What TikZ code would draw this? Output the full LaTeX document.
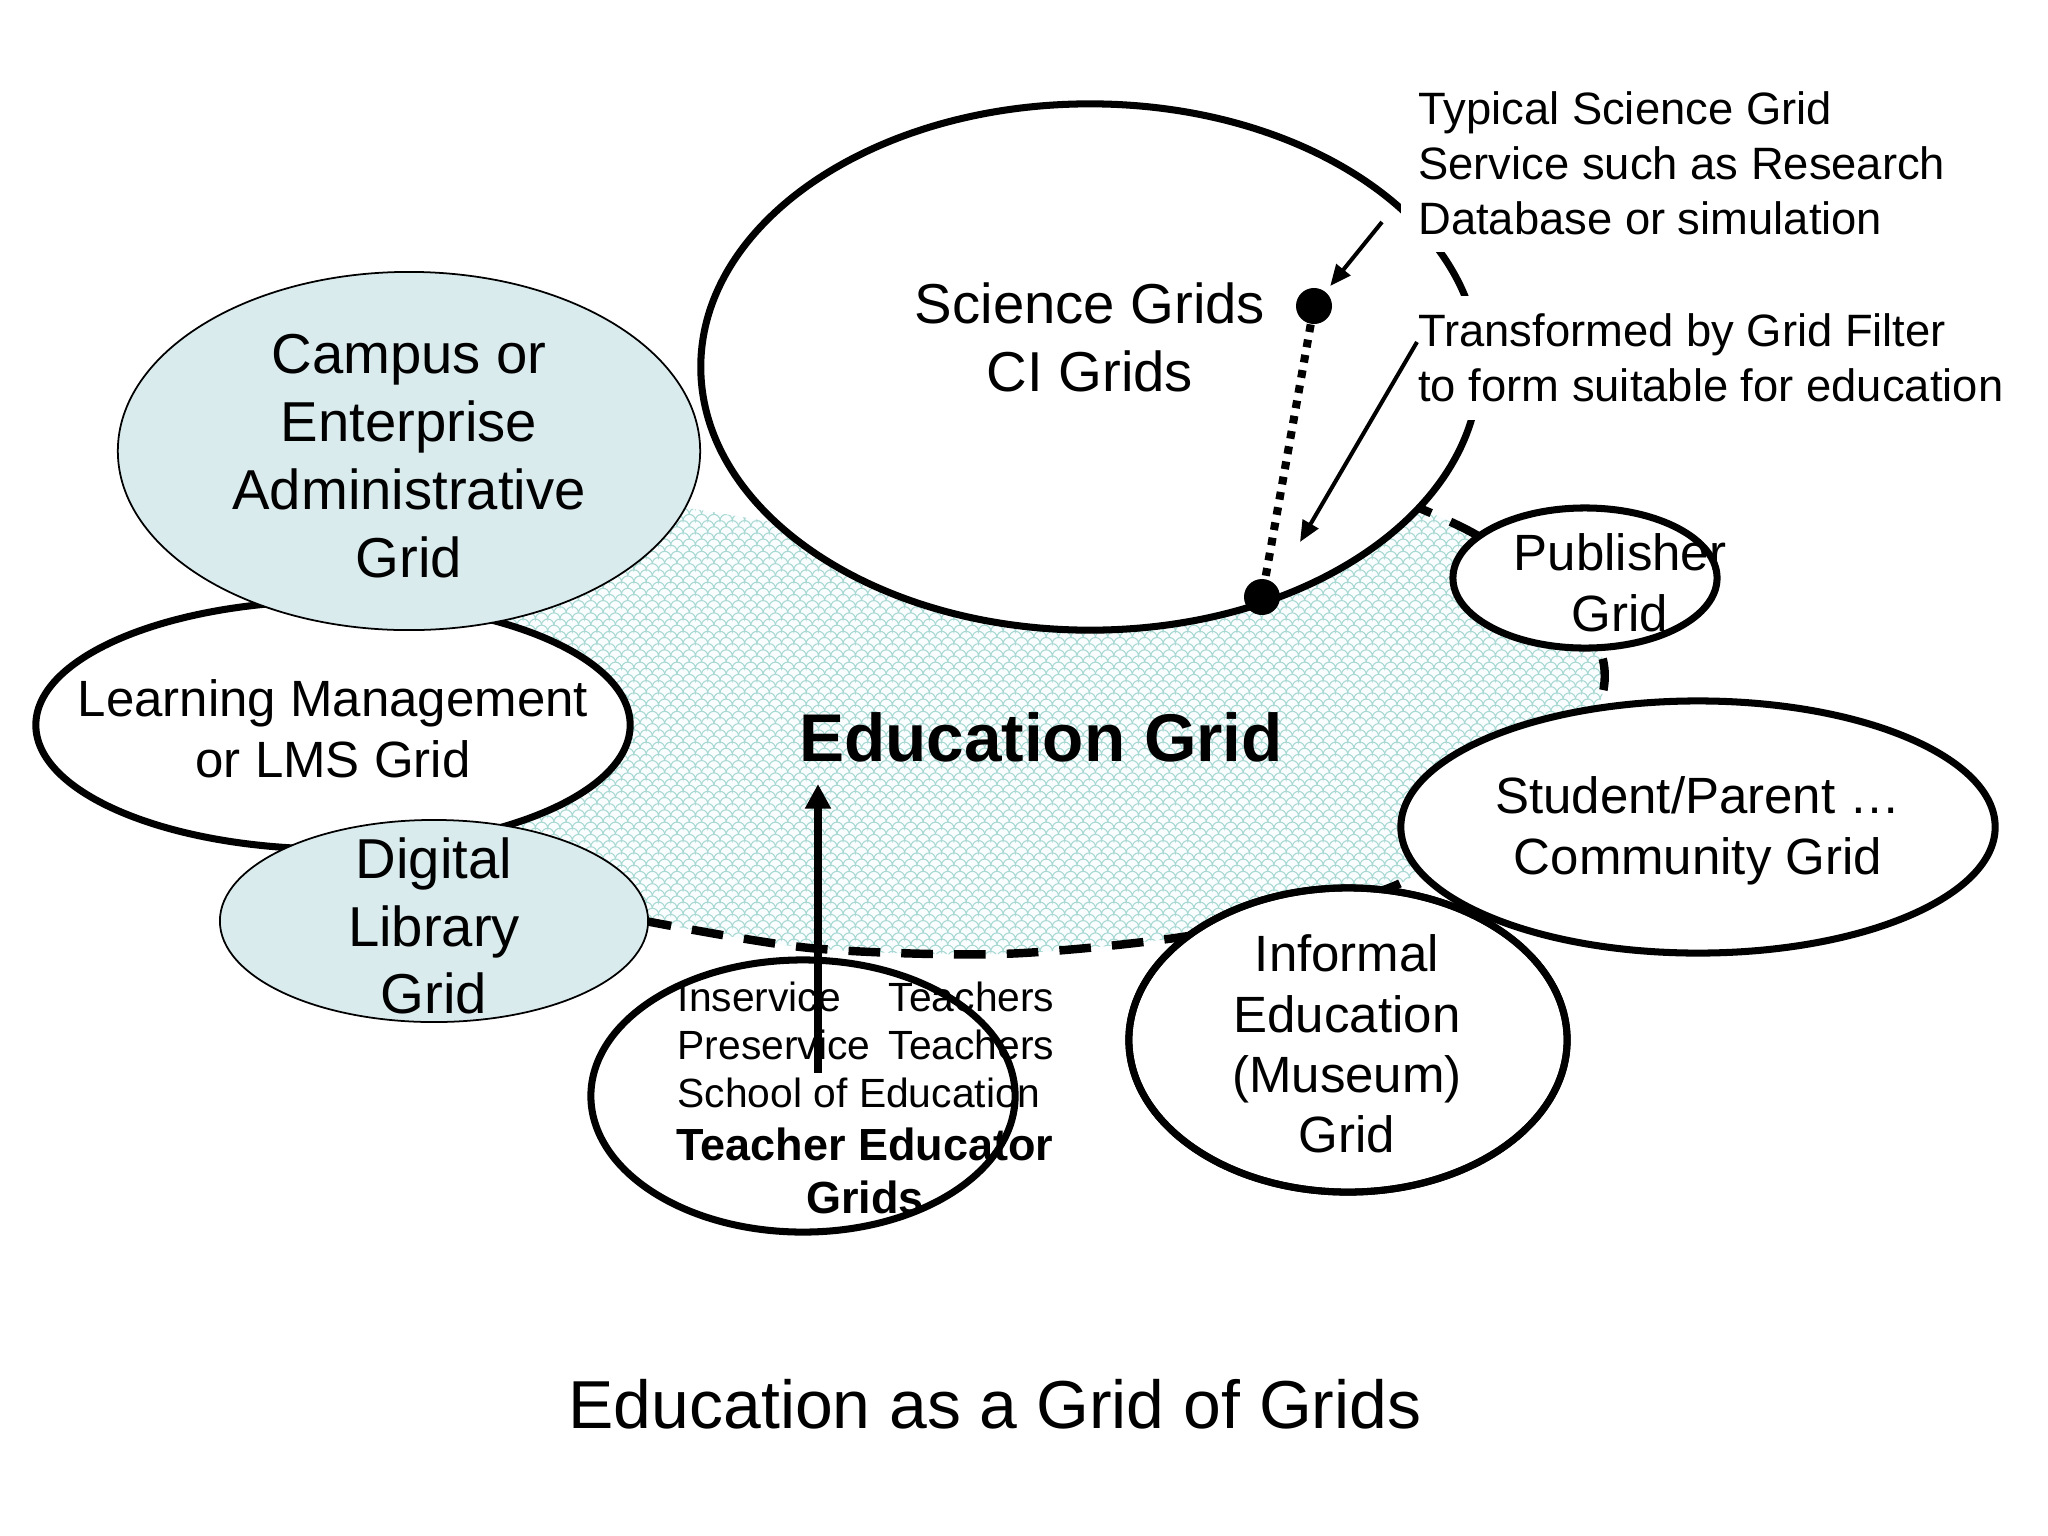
\documentclass[tikz,border=0pt]{standalone}
\usepackage{fontspec}
\setmainfont{Liberation Sans}
\usetikzlibrary{shapes.geometric,arrows.meta,patterns}
\definecolor{paleblue}{RGB}{218,235,238}
\definecolor{scaleline}{RGB}{168,216,211}
\definecolor{scalebg}{RGB}{249,253,253}
\newcommand\ovalbig{\fontsize{16}{19.3}\selectfont}
\newcommand\ovalmid{\fontsize{14.5}{17.2}\selectfont}
\newcommand\notesize{\fontsize{12.9}{15.6}\selectfont}
\newcommand\rolesize{\fontsize{11.6}{13.6}\selectfont}
\newcommand\rolebold{\fontsize{12.8}{15.2}\selectfont\bfseries}
\newcommand\edusize{\fontsize{19.2}{23}\selectfont\bfseries}
\newcommand\titlesize{\fontsize{19.3}{23}\selectfont}
% fish-scale fill of the education area
\pgfdeclarepatternformonly{scales}{\pgfqpoint{-0.5pt}{-0.5pt}}{\pgfqpoint{4pt}{4pt}}{\pgfqpoint{3.5pt}{3.5pt}}{%
  \pgfsetlinewidth{0.3pt}%
  \pgfpathmoveto{\pgfqpoint{0pt}{0pt}}%
  \pgfpatharc{180}{0}{1.75pt}%
  \pgfpathmoveto{\pgfqpoint{0pt}{3.5pt}}%
  \pgfpatharc{90}{0}{1.75pt}%
  \pgfpatharc{180}{90}{1.75pt}%
  \pgfusepath{stroke}%
}
\tikzset{
  oval/.style={ellipse,draw,line width=2pt,fill=white,inner sep=0pt},
  paleoval/.style={ellipse,draw,line width=0.5pt,fill=paleblue,inner sep=0pt},
  lbl/.style={align=center,inner sep=0pt},
  note/.style={align=left,fill=white,inner sep=5pt,font=\notesize},
  spot/.style={circle,fill=black,inner sep=0pt,minimum size=0.36cm},
  notearrow/.style={line width=1.15pt,-{Triangle[length=6pt,width=5pt]}}
}
\begin{document}
\begin{tikzpicture}[x=0.01cm,y=-0.01cm]
\useasboundingbox (0,0) rectangle (2048,1536);
% education area and its dashed rim
\path[preaction={fill=scalebg},pattern=scales,pattern color=scaleline]
  plot[smooth] coordinates {(640,920) (810,948) (1000,954) (1175,938) (1300,912) (1410,878)
    (1500,790) (1590,720) (1603,660) (1560,590) (1473,533) (1400,500)}
  -- (1000,560) -- (640,500) -- (480,620) -- (560,760) -- (512,826) -- (600,900) -- cycle;
\draw[line width=2.4pt,dash pattern=on 9pt off 6pt]
  plot[smooth] coordinates {(640,920) (810,948) (1000,954) (1175,938) (1300,912) (1410,878)
    (1500,790) (1590,720) (1603,660) (1560,590) (1473,533) (1400,500)};
% the grids
\node[oval,minimum width=7.78cm,minimum height=5.26cm] (sci) at (1090,367) {};
\node[oval,minimum width=5.94cm,minimum height=2.48cm] (lms) at (333,725) {};
\node[paleoval,minimum width=5.82cm,minimum height=3.58cm] (campus) at (409,451) {};
\node[paleoval,minimum width=4.28cm,minimum height=2.02cm] (dl) at (434,921) {};
\node[oval,minimum width=2.64cm,minimum height=1.4cm] (pub) at (1585,578) {};
\node[oval,minimum width=4.38cm,minimum height=3.04cm] (museum) at (1348,1040) {};
\node[oval,minimum width=5.94cm,minimum height=2.52cm] (fam) at (1698,827) {};
\draw[line width=2pt] (museum.center) ellipse [x radius=2.19cm,y radius=1.52cm];
\node[oval,fill=none,minimum width=4.24cm,minimum height=2.72cm] (teach) at (803,1096) {};
% texts
\node[lbl,font=\ovalbig] (scitxt) at (1090,337) {Science Grids\\CI Grids};
\node[lbl,font=\ovalbig] (campustxt) at (409,456) {Campus or\\Enterprise\\Administrative\\Grid};
\node[lbl,font=\ovalmid] (lmstxt) at (333,729) {Learning Management\\or LMS Grid};
\node[lbl,font=\ovalbig] (dltxt) at (434,926) {Digital\\Library\\Grid};
\node[lbl,font=\ovalmid] (pubtxt) at (1620,583) {Publisher\\Grid};
\node[lbl,font=\ovalmid] (famtxt) at (1698,831) {Student/Parent …\\Community Grid};
\node[lbl,font=\ovalmid] (museumtxt) at (1347,1044) {Informal\\Education\\(Museum)\\Grid};
\node[lbl,font=\edusize] (edutxt) at (1041,737) {Education Grid};
\node[anchor=west,inner sep=0pt,font=\rolesize] (roles) at (677,1050)
  {\begin{tabular}{@{}p{2.11cm}@{}l@{}}Inservice & Teachers\\ Preservice & Teachers\\
   \multicolumn{2}{@{}l@{}}{School of Education}\end{tabular}};
\node[lbl,font=\rolebold] (teachtxt) at (865,1171) {Teacher Educator\\Grids};
\node[note,anchor=west] (typical) at (1400,163) {Typical Science Grid\\Service such as Research\\Database or simulation};
\node[note,anchor=west] (filter) at (1400,358) {Transformed by Grid Filter\\to form suitable for education};
\node[lbl,font=\titlesize] (title) at (995,1404) {Education as a Grid of Grids};
% service and its filtered copy
\node[spot] (dotA) at (1314,306) {};
\node[spot] (dotB) at (1262,597) {};
\draw[line width=2.3pt,dash pattern=on 2.2pt off 2.2pt] (dotA) -- (dotB);
\coordinate (n1) at (1382,222);
\coordinate (n2) at (1417,342);
\coordinate (n2end) at (1300,542);
\draw[notearrow,shorten >=2pt] (n1) -- (dotA);
\draw[notearrow] (n2) -- (n2end);
\coordinate (up0) at (818,1073);
\coordinate (up1) at (818,784);
\draw[line width=2pt,-{Triangle[length=7pt,width=7pt]}] (up0) -- (up1);
\end{tikzpicture}
\end{document}
